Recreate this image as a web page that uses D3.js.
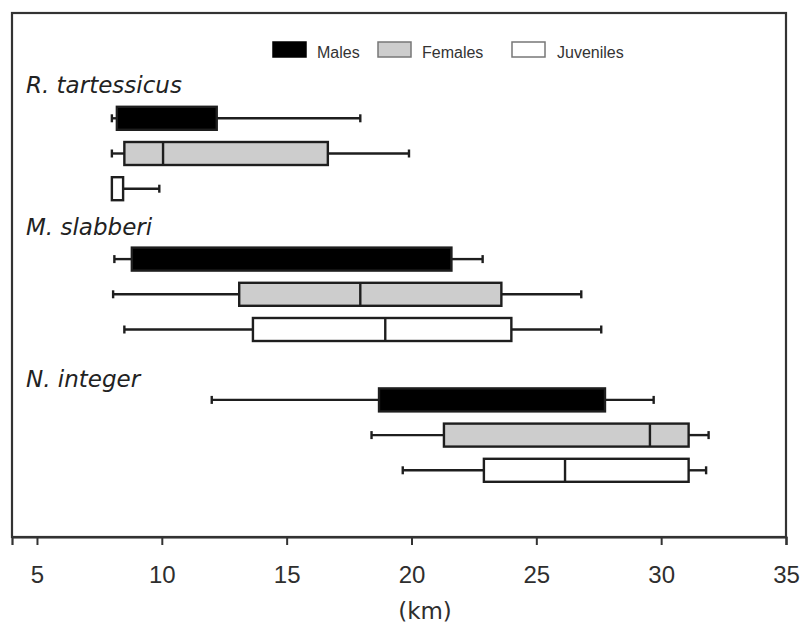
<!DOCTYPE html>
<html>
<head>
<meta charset="utf-8">
<script src="https://cdn.jsdelivr.net/npm/d3@7"></script>
<style>
  html, body { margin: 0; padding: 0; background: #fff; }
  svg { display: block; }
</style>
</head>
<body>
<svg id="chart" width="800" height="626"></svg>
<script>
// Species and life stages
const species = ["R. tartessicus", "M. slabberi", "N. integer"];
const stages = ["Males", "Females", "Juveniles"];
const stageFill = ["#000000", "#cdcdcd", "#ffffff"];

// Box statistics (km), one row per species, one entry per stage
const whiskerMin = [
  [8.0, 8.0, 8.0],
  [8.1, 8.05, 8.5],
  [12.0, 18.4, 19.65]
];
const quartile1 = [
  [8.2, 8.5, 8.0],
  [8.8, 13.1, 13.65],
  [18.7, 21.3, 22.9]
];
const medians = [
  [null, 10.05, null],
  [null, 17.95, 18.95],
  [null, 29.55, 26.15]
];
const quartile3 = [
  [12.2, 16.65, 8.45],
  [21.6, 23.6, 24.0],
  [27.75, 31.1, 31.1]
];
const whiskerMax = [
  [17.95, 19.9, 9.9],
  [22.85, 26.8, 27.6],
  [29.7, 31.9, 31.8]
];

const xTicks = [5, 10, 15, 20, 25, 30, 35];
const xTitle = "(km)";

const svg = d3.select("#chart");
const frame = { left: 12, right: 786, top: 13, bottom: 537 };

const x = d3.scaleLinear().domain([4, 35]).range([frame.left, frame.right]);
// Each species takes four slots: a heading slot then one slot per stage
const y = d3.scaleLinear().domain([0, 11]).range([83.1, 470.3]);
const boxH = 23;
const capH = 8;
const ink = "#1e1e1e";
const lw = 2.4;

// Flatten into one record per drawn box
const rows = [];
species.forEach((sp, g) => {
  stages.forEach((st, s) => {
    rows.push({
      species: sp, stage: st, g, s,
      min: whiskerMin[g][s], q1: quartile1[g][s], med: medians[g][s],
      q3: quartile3[g][s], max: whiskerMax[g][s],
      slot: g * 4 + s + 1
    });
  });
});

// Plot frame
svg.append("rect")
  .attr("x", frame.left).attr("y", frame.top)
  .attr("width", frame.right - frame.left)
  .attr("height", frame.bottom - frame.top)
  .attr("fill", "none").attr("stroke", "#333").attr("stroke-width", 2.2);

// Bottom axis
const axis = svg.append("g")
  .attr("transform", `translate(0,${frame.bottom})`)
  .call(d3.axisBottom(x).tickValues(xTicks).tickSize(8).tickPadding(21).tickFormat(d3.format("d")));
axis.select(".domain").attr("stroke", "#333").attr("stroke-width", 2.2);
axis.selectAll(".tick line").attr("stroke", "#333").attr("stroke-width", 2);
axis.selectAll(".tick text")
  .attr("fill", "#2e2e2e")
  .style("font-family", "'Liberation Sans', Arial, sans-serif")
  .style("font-size", "24px");

svg.append("text")
  .attr("x", 425).attr("y", 619)
  .attr("text-anchor", "middle")
  .attr("fill", "#2e2e2e")
  .style("font-family", "'DejaVu Sans', sans-serif")
  .style("font-size", "23px")
  .text(xTitle);

// Species headings
const headingBaseline = [93, 235, 387];
svg.selectAll("text.species")
  .data(species)
  .join("text")
  .attr("class", "species")
  .attr("x", 26)
  .attr("y", (d, i) => headingBaseline[i])
  .attr("fill", "#222")
  .style("font-family", "'DejaVu Sans', sans-serif")
  .style("font-style", "italic")
  .style("font-size", "23px")
  .text(d => d);

// Whiskers
const boxes = svg.append("g").selectAll("g.box").data(rows).join("g").attr("class", "box");

boxes.filter(d => d.min < d.q1).append("line")
  .attr("x1", d => x(d.min)).attr("x2", d => x(d.q1))
  .attr("y1", d => y(d.slot)).attr("y2", d => y(d.slot))
  .attr("stroke", ink).attr("stroke-width", lw);
boxes.filter(d => d.min < d.q1).append("line")
  .attr("x1", d => x(d.min)).attr("x2", d => x(d.min))
  .attr("y1", d => y(d.slot) - capH / 2).attr("y2", d => y(d.slot) + capH / 2)
  .attr("stroke", ink).attr("stroke-width", lw);

boxes.append("line")
  .attr("x1", d => x(d.q3)).attr("x2", d => x(d.max))
  .attr("y1", d => y(d.slot)).attr("y2", d => y(d.slot))
  .attr("stroke", ink).attr("stroke-width", lw);
boxes.append("line")
  .attr("x1", d => x(d.max)).attr("x2", d => x(d.max))
  .attr("y1", d => y(d.slot) - capH / 2).attr("y2", d => y(d.slot) + capH / 2)
  .attr("stroke", ink).attr("stroke-width", lw);

// Interquartile boxes
boxes.append("rect")
  .attr("x", d => x(d.q1))
  .attr("y", d => y(d.slot) - boxH / 2)
  .attr("width", d => x(d.q3) - x(d.q1))
  .attr("height", boxH)
  .attr("fill", d => stageFill[d.s])
  .attr("stroke", ink).attr("stroke-width", lw);

// Medians
boxes.filter(d => d.med != null).append("line")
  .attr("x1", d => x(d.med)).attr("x2", d => x(d.med))
  .attr("y1", d => y(d.slot) - boxH / 2).attr("y2", d => y(d.slot) + boxH / 2)
  .attr("stroke", ink).attr("stroke-width", lw);

// Legend
const legendX = [273, 378, 512];
const legend = svg.append("g").selectAll("g").data(stages).join("g")
  .attr("transform", (d, i) => `translate(${legendX[i]},42)`);
legend.append("rect")
  .attr("width", 33).attr("height", 15)
  .attr("fill", (d, i) => stageFill[i])
  .attr("stroke", (d, i) => i === 0 ? "#000" : "#777")
  .attr("stroke-width", 1.5);
legend.append("text")
  .attr("x", (d, i) => i === 2 ? 45 : 44)
  .attr("y", 15.5)
  .attr("fill", "#333")
  .style("font-family", "'Liberation Sans', Arial, sans-serif")
  .style("font-size", "16px")
  .text(d => d);
</script>
</body>
</html>
